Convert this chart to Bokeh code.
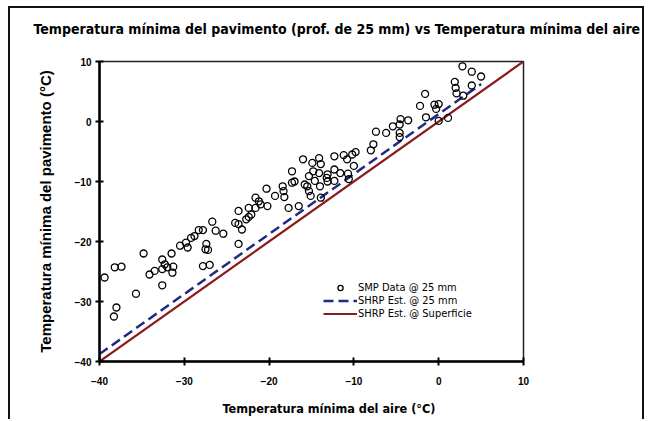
from bokeh.plotting import figure
from bokeh.models import Range1d, FixedTicker, Legend, LegendItem, Title
from bokeh.embed import file_html
from bokeh.resources import INLINE

# SMP data @ 25 mm (min air temp, min pavement temp)
smp_x = [-39.4, -38.2, -37.4, -38.3, -38.0, -34.8, -35.7, -34.1, -33.5, -32.6,
         -32.3, -32.6, -32.0, -31.3, -31.4, -32.6, -31.5, -30.5, -29.8, -29.6,
         -29.2, -28.8, -28.3, -27.8, -27.4, -27.5, -27.2, -27.8, -27.0, -26.7,
         -26.3, -25.4, -23.6, -24.0, -23.6, -23.2, -23.6, -22.7, -22.4, -22.1,
         -22.4, -21.6, -21.2, -21.0, -21.6, -20.2, -20.3, -19.3, -18.4, -18.3,
         -18.2, -17.3, -17.0, -17.3, -17.7, -16.5, -16.0, -15.8, -15.5, -15.3,
         -14.9, -15.3, -15.1, -14.8, -14.6, -14.1, -13.9, -14.0, -14.1, -13.9,
         -13.1, -12.3, -11.6, -10.7, -12.3, -10.6, -13.2, -13.1, -12.3, -11.2,
         -10.2, -9.8, -10.8, -10.0, -7.7, -8.0, -7.4, -6.2, -4.6, -4.6,
         -5.4, -4.6, -4.5, -3.6, -1.5, 0.0, 1.1, -1.6, -2.2, -0.5,
         0.0, -0.3, 1.9, 2.0, 2.1, 2.9, 3.9, 2.8, 3.9, 5.0]
smp_y = [-26.0, -24.3, -24.2, -32.5, -31.0, -22.0, -28.7, -25.5, -24.9, -23.0,
         -23.8, -24.6, -24.3, -24.2, -25.2, -27.3, -22.0, -20.7, -20.2, -21.0,
         -19.4, -19.1, -18.1, -18.1, -20.4, -21.3, -21.4, -24.1, -23.9, -16.7,
         -18.2, -18.7, -14.9, -16.9, -17.1, -18.0, -20.4, -16.3, -15.9, -15.5,
         -14.4, -12.7, -13.3, -13.8, -14.4, -14.1, -11.2, -12.4, -10.8, -11.6,
         -12.6, -8.3, -10.0, -10.2, -14.4, -14.1, -6.3, -10.5, -10.8, -9.1,
         -6.9, -11.6, -12.4, -8.3, -9.9, -6.1, -7.1, -10.8, -8.6, -12.7,
         -8.8, -8.0, -8.6, -8.7, -9.9, -9.6, -9.4, -10.0, -5.8, -5.6,
         -5.5, -5.1, -6.3, -7.4, -3.8, -4.8, -1.7, -1.9, -1.9, -2.6,
         -0.8, -0.5, 0.4, 0.2, 0.7, 0.1, 0.6, 4.6, 2.6, 2.8,
         2.9, 2.1, 6.6, 5.6, 4.7, 4.3, 6.0, 9.2, 8.3, 7.5]

# SHRP estimate @ 25 mm (dashed) and @ surface (solid)
est25_x = [-40, 5]
est25_y = [-38.76, 6.24]
surf_x = [-40, 10]
surf_y = [-40, 10]

ticks = [-40, -30, -20, -10, 0, 10]
labels = ["SMP Data @ 25 mm", "SHRP Est. @ 25 mm", "SHRP Est. @ Superficie"]
title = "Temperatura mínima del pavimento (prof. de 25 mm) vs Temperatura mínima del aire"
xlabel = "Temperatura mínima del aire (°C)"
ylabel = "Temperatura mínima del pavimento (°C)"

NARROW = "'Liberation Sans Narrow', 'DejaVu Sans Condensed', sans-serif"
SANS = "'Liberation Sans', Arial, sans-serif"

p = figure(width=636, height=413, output_backend="svg", toolbar_location=None,
           x_range=Range1d(-40, 10), y_range=Range1d(-40, 10),
           min_border_left=89, min_border_right=123, min_border_top=53,
           min_border_bottom=60)
p.title_location = None
p.styles = {"margin-left": "8px", "margin-top": "6px",
            "border-left": "2px solid #111", "border-top": "2px solid #111",
            "border-right": "2px solid #111"}

p.grid.visible = False
p.outline_line_color = "#222222"
p.outline_line_width = 1.5

for ax in (p.xaxis[0], p.yaxis[0]):
    ax.ticker = FixedTicker(ticks=ticks)
    ax.minor_tick_line_color = None
    ax.major_tick_in = 4
    ax.major_tick_out = 4
    ax.major_tick_line_width = 2
    ax.major_tick_line_color = "black"
    ax.axis_line_width = 2.5
    ax.axis_line_color = "black"
    ax.major_label_text_font = SANS
    ax.major_label_text_font_size = "10px"
    ax.major_label_text_font_style = "bold"
    ax.major_label_text_color = "black"

p.xaxis.major_label_standoff = 11
p.yaxis.major_label_standoff = 4
p.yaxis.axis_label = ylabel
p.yaxis.axis_label_text_font = SANS
p.yaxis.axis_label_text_font_size = "15px"
p.yaxis.axis_label_text_font_style = "bold"
p.yaxis.axis_label_text_color = "black"
p.yaxis.axis_label_standoff = 18

# title (above): spacer next to the frame, then the title text
p.add_layout(Title(text=" ", text_font_size="1px", standoff=22), "above")
p.add_layout(Title(text=title, align="left", offset=-66, standoff=0,
                   text_font=NARROW, text_font_size="14px",
                   text_font_style="bold", text_color="black"), "above")

# x-axis label (below): spacer after the axis, then the label text
p.add_layout(Title(text=" ", text_font_size="1px", standoff=8), "below")
p.add_layout(Title(text=xlabel, align="left", offset=123, standoff=0,
                   text_font=NARROW, text_font_size="12.6px",
                   text_font_style="bold", text_color="black"), "below")

r_surf = p.line(surf_x, surf_y, line_color="#8b1a1a", line_width=2.2)
r_est = p.line(est25_x, est25_y, line_color="#1f2a80", line_width=2.5,
               line_dash="10 5")
r_smp = p.scatter(smp_x, smp_y, marker="circle", size=7, fill_color=None,
                  line_color="black", line_width=1.3)

legend = Legend(items=[LegendItem(label=labels[0], renderers=[r_smp]),
                       LegendItem(label=labels[1], renderers=[r_est]),
                       LegendItem(label=labels[2], renderers=[r_surf])],
                location=(224, 41))
legend.glyph_width = 34
legend.glyph_height = 13
legend.label_height = 13
legend.label_standoff = 1
legend.spacing = 0
legend.padding = 0
legend.margin = 0
legend.border_line_alpha = 0
legend.background_fill_alpha = 0
legend.label_text_font = NARROW
legend.label_text_font_size = "11px"
legend.label_text_color = "black"
p.add_layout(legend)

open("out.html", "w").write(file_html(p, INLINE))
